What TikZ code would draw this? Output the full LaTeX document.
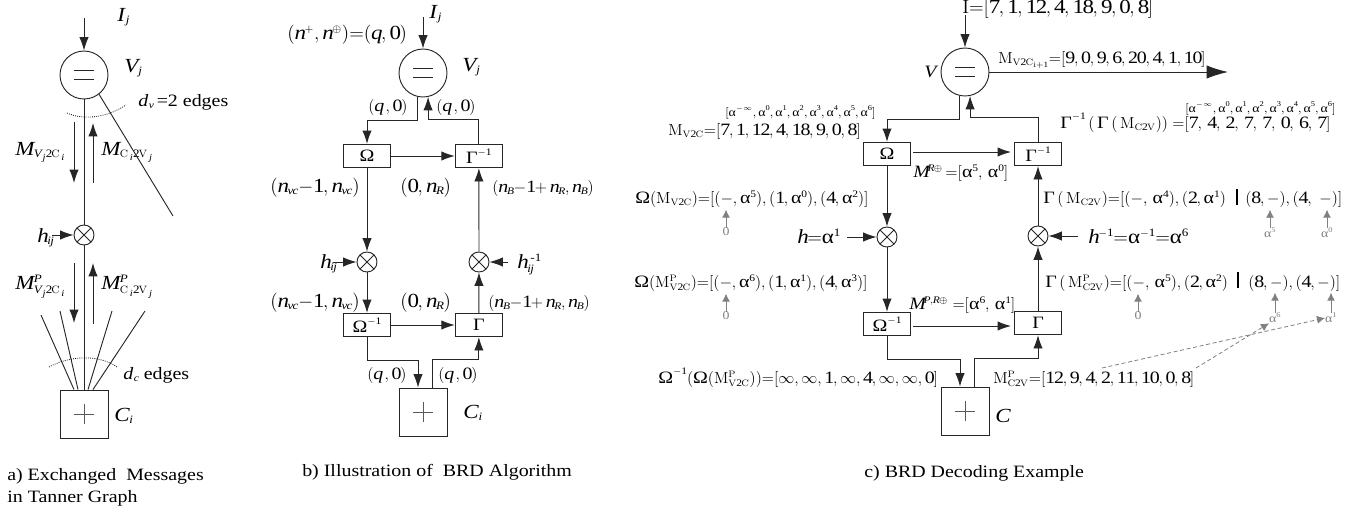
\documentclass[tikz,border=0pt]{standalone}
\usepackage{amsmath}
\usepackage{mathspec}
\setmainfont[FakeStretch=1.15]{Liberation Serif}
\setmathsfont(Digits,Latin)[FakeStretch=1.15]{Liberation Serif}
\usetikzlibrary{positioning,arrows.meta}
\DeclareMathSizes{15}{15}{8.5}{7}
\DeclareMathSizes{13}{13}{7.5}{6}
\DeclareMathSizes{9}{9}{5.5}{5}
\newcommand{\al}{\mbox{α}}
\newcommand{\Om}{\mbox{Ω}}
\newcommand{\Gm}{\mbox{Γ}}
\newcommand{\MP}[1]{\mathrm{M}^{\mathrm{P}}_{\mathrm{#1}}}
\newcommand{\MM}[1]{\mathrm{M}_{\mathrm{#1}}}
\tikzset{
    lab/.style={anchor=base west, inner sep=0pt, font=\fontsize{13}{15}\selectfont},
    biglab/.style={lab, font=\fontsize{15}{17}\selectfont},
    small/.style={lab, font=\fontsize{9}{11}\selectfont},
    tiny/.style={anchor=center, inner sep=0pt, text=gray, font=\fontsize{9}{10}\selectfont},
    barlab/.style={anchor=center, inner sep=0pt},
    line/.style={line width=0.7pt, draw=black!85},
    arr/.style={line, -{Latex[length=10pt,width=7pt]}},
    grayarr/.style={line width=0.7pt, draw=gray, -{Latex[length=6pt,width=6pt]}},
    dasharr/.style={line width=0.6pt, draw=gray, densely dashed, -{Latex[length=6pt,width=6pt]}},
    vnode/.style={circle, line, minimum size=36pt, inner sep=0pt,
        path picture={\draw[line] ([xshift=-7.5pt,yshift=3.5pt]path picture bounding box.center) -- ++(15pt,0);
                      \draw[line] ([xshift=-7.5pt,yshift=-3.5pt]path picture bounding box.center) -- ++(15pt,0);}},
    cnode/.style={rectangle, line, minimum size=36pt, inner sep=0pt,
        path picture={\draw[line width=0.6pt,draw=black!65] ([xshift=-7.5pt]path picture bounding box.center) -- ++(15pt,0);
                      \draw[line width=0.6pt,draw=black!65] ([yshift=-7.5pt]path picture bounding box.center) -- ++(0,15pt);}},
    xnode/.style={circle, line, minimum size=15pt, inner sep=0pt,
        path picture={\draw[line] (path picture bounding box.north west) -- (path picture bounding box.south east);
                      \draw[line] (path picture bounding box.north east) -- (path picture bounding box.south west);}},
    opbox/.style={rectangle, line, minimum width=35.5pt, minimum height=17.5pt, inner sep=0pt, font=\fontsize{13}{15}\selectfont},
    captxt/.style={lab, font=\fontsize{13}{15}\selectfont},
}
\begin{document}
\begin{tikzpicture}[x=0.75pt,y=-0.75pt]
\useasboundingbox (0,0) rectangle (1359,515);

%Nodes a
\node[vnode]    (Va)    at (84,75)      {};
\node[xnode]    (xa)    at (84,235)     {};
\node[cnode]    (Ca)    at (84,414)     {};
\coordinate     (ia)    at (84,18);
\coordinate     (da)    at (173,216);
\coordinate     (ha)    at (52,235);
\node[biglab]   (Ija)   at (117,21)     {$I_{\,j}$};
\node[biglab]   (Vja)   at (124,72)     {$V_{\,j}$};
\node[lab]      (dva)   at (138,106)    {$d_{\,v}$\,=2 edges};
\node[biglab]   (Mva)   at (15,155)     {$M_{\,V_{\,j}2\mathrm{C}_{\,i}}$};
\node[biglab]   (Mca)   at (101,155)    {$M_{\,\mathrm{C}_{\,i}2\mathrm{V}_{\,j}}$};
\node[biglab]   (hia)   at (37,242)     {$h_{ij}$};
\node[biglab]   (Pva)   at (15,289)     {$M^{\,P}_{\,V_{\,j}2\mathrm{C}_{\,i}}$};
\node[biglab]   (Pca)   at (101,289)    {$M^{\,P}_{\,\mathrm{C}_{\,i}2\mathrm{V}_{\,j}}$};
\node[lab]      (dca)   at (123,379)    {$d_{\,c}$ edges};
\node[biglab]   (Cia)   at (114,421)    {$C_{\,i}$};
\node[captxt]   (capa)  at (7,480)      {a) Exchanged\ \ Messages};
\node[captxt]   (capb)  at (7,502)      {in Tanner Graph};

%Lines a
\draw[arr]      (ia) -- (Va);
\draw[line]     (Va) -- (xa);
\draw[line]     (xa) -- (Ca);
\draw[line]     (Va.-52) -- (da);
\draw[arr]      (ha) -- (xa);
\draw[arr]      (74,122) -- (74,183);
\draw[arr]      (93,183) -- (93,123);
\draw[arr]      (74,263) -- (74,323);
\draw[arr]      (93,324) -- (93,263);
\draw[line]     ([xshift=-7.5pt]Ca.north) -- (41,315);
\draw[line]     ([xshift=-4.5pt]Ca.north) -- (60,311);
\draw[line]     ([xshift=3pt]Ca.north) -- (112,311);
\draw[line]     ([xshift=6.75pt]Ca.north) -- (145,311);
\draw[densely dotted, line width=0.6pt] (67,113) .. controls (80,119) and (103,120) .. (126,105);
\draw[densely dotted, line width=0.6pt] (49,367) .. controls (65,358) and (95,352) .. (117,367);

%Nodes b
\node[vnode]    (Vb)    at (423,73)     {};
\node[opbox]    (Wb)    at (367,156)    {$\Om$};
\node[opbox]    (Gb)    [right=47.7pt of Wb]  {$\Gm^{-1}$};
\node[xnode]    (xlb)   at (367,262)    {};
\node[xnode]    (xrb)   at (479,262)    {};
\node[opbox]    (Wib)   at (367,325)    {$\Om^{-1}$};
\node[opbox]    (Gab)   [right=47.7pt of Wib] {$\Gm$};
\node[cnode]    (Cb)    at (423,412)    {};
\coordinate     (ib)    at (423,17);
\coordinate     (hlb)   at (333,262);
\coordinate     (hrb)   at (508,262);
\node[biglab]   (Ijb)   at (429,18)     {$I_{\,j}$};
\node[biglab]   (Vjb)   at (462,71)     {$V_{\,j}$};
\node[biglab]   (nqb)   at (287,39)     {$(n^{+},n^{\oplus}){=}(q,0)$};
\node[lab]      (q1b)   at (368,111)    {$(q\,,0)$};
\node[lab]      (q2b)   at (436,111)    {$(q\,,0)$};
\node[biglab]   (n1b)   at (270,192)    {$(n_{vc}{-}1,n_{vc})$};
\node[biglab]   (r1b)   at (400,192)    {$(0,n_{R})$};
\node[lab]      (n2b)   at (492,192)    {$(n_{B}{-}1{+}\,n_{R},n_{B})$};
\node[biglab]   (hlab)  at (320,268)    {$h_{ij}$};
\node[biglab]   (hrab)  at (517,268)    {$h_{ij}^{\;\text{-}1}$};
\node[biglab]   (n3b)   at (270,307)    {$(n_{vc}{-}1,n_{vc})$};
\node[biglab]   (r2b)   at (400,307)    {$(0,n_{R})$};
\node[lab]      (n4b)   at (488,307)    {$(n_{B}{-}1{+}\,n_{R},n_{B})$};
\node[lab]      (q3b)   at (367,379)    {$(q\,,0)$};
\node[lab]      (q4b)   at (438,379)    {$(q\,,0)$};
\node[biglab]   (Cib)   at (463,418)    {$C_{\,i}$};
\node[captxt]   (capc)  at (302,476)    {b) Illustration of\ \ BRD Algorithm};

%Lines b
\draw[arr]      (ib) -- (Vb);
\draw[arr]      (Vb.258) -- ++(0,24) -| (Wb.north);
\draw[arr]      (Gb.north) -- ++(0,-24) -| (Vb.282);
\draw[arr]      (Wb) -- (Gb);
\draw[arr]      (Wb) -- (xlb);
\draw[arr]      (xrb) -- (Gb);
\draw[arr]      (hlb) -- (xlb);
\draw[arr]      (hrb) -- (xrb);
\draw[arr]      (xlb) -- (Wib);
\draw[arr]      (Gab) -- (xrb);
\draw[arr]      (Wib) -- (Gab);
\draw[arr]      (Wib.south) -- ++(0,23) -| ([xshift=-3.75pt]Cb.north);
\draw[arr]      ([xshift=6.75pt]Cb.north) -- ++(0,-28) -| (Gab.south);

%Nodes c
\node[vnode]    (Vc)    at (965,72)     {};
\node[opbox]    (Wc)    at (887,154)    {$\Om$};
\node[opbox]    (Gc)    at (1038,154)   {$\Gm^{-1}$};
\node[xnode]    (xlc)   at (887,237)    {};
\node[xnode]    (xrc)   at (1038,236)   {};
\node[opbox]    (Wic)   at (887,324)    {$\Om^{-1}$};
\node[opbox]    (Gac)   at (1038,323)   {$\Gm$};
\node[cnode]    (Cc)    at (965,411)    {};
\coordinate     (ic)    at (965,15);
\coordinate     (oc)    at (1228,72);
\coordinate     (hlc)   at (847,237);
\coordinate     (hrc)   at (1078,236);
\coordinate     (w1c)   at (913,152);
\coordinate     (g1c)   at (1011,152);
\coordinate     (w2c)   at (913,326);
\coordinate     (g2c)   at (1011,326);
\coordinate     (dl1)   at (1102,368);
\coordinate     (dl2)   at (1196,368);
\node[biglab]   (Ic)    at (962,13)     {$\mathrm{I}{=}[7,1,12,4,18,9,0,8]$};
\node[lab]      (Vlc)   at (924,77)     {$V$};
\node[lab]      (Moc)   at (998,63)     {$\mathrm{M}_{\mathrm{V2C}_{\mathrm{i+1}}}{=}[9,0,9,6,20,4,1,10]$};
\node[small]    (al1c)  at (725,116)    {$[\al^{-\infty},\al^{0},\al^{1},\al^{2},\al^{3},\al^{4},\al^{5},\al^{6}]$};
\node[lab]      (Mvc)   at (668,135)    {$\MM{V2C}{=}[7,1,12,4,18,9,0,8]$};
\node[small]    (al2c)  at (1185,112)   {$[\al^{-\infty},\al^{0},\al^{1},\al^{2},\al^{3},\al^{4},\al^{5},\al^{6}]$};
\node[lab]      (Gic)   at (1060,128)   {$\Gm^{-1}\,(\,\Gm\,(\,\MM{C2V}))\;{=}[7,\,4,\,2,\,7,\,7,\,0,\,6,\,7]$};
\node[lab]      (MRc)   at (913,177)    {$M^{R\oplus}\,{=}[\al^{5},\,\al^{0}]$};
\node[lab]      (Wvc)   at (635,203)    {$\Om(\MM{V2C}){=}[(-,\al^{5}),(1,\al^{0}),(4,\al^{2})]$};
\node[lab]      (Gvc)   at (1043,203)   {$\Gm\,(\,\MM{C2V}){=}[(-,\,\al^{4}),(2,\al^{1})$};
\node[barlab]   (Bvc)   at (1237,197)   {\rule{1.5pt}{12pt}};
\node[lab]      (Gwc)   at (1245,203)   {$(8,-),(4,\ -)]$};
\node[biglab]   (hlac)  at (797,243)    {$h{=}\al^{1}$};
\node[biglab]   (hrac)  at (1088,243)   {$h^{-1}{=}\al^{-1}{=}\al^{6}$};
\node[lab]      (Wpc)   at (634,287)    {$\Om(\MP{V2C}){=}[(-,\al^{6}),(1,\al^{1}),(4,\al^{3})]$};
\node[lab]      (Gpc)   at (1045,287)   {$\Gm\,(\,\MP{C2V}){=}[(-,\,\al^{5}),(2,\al^{2})$};
\node[barlab]   (Bpc)   at (1238,280)   {\rule{1.5pt}{12pt}};
\node[lab]      (Gqc)   at (1248,287)   {$(8,-),(4,-)]$};
\node[lab]      (MPc)   at (909,309)    {$M^{P,R\oplus}\;{=}[\al^{6},\,\al^{1}]$};
\node[lab]      (Wic2)  at (658,383)    {$\Om^{-1}(\Om(\MP{V2C})){=}[\infty,\infty,1,\infty,4,\infty,\infty,0]$};
\node[lab]      (Mpc)   at (993,383)    {$\MP{C2V}{=}[12,9,4,2,11,10,0,8]$};
\node[biglab]   (Clc)   at (995,422)    {$C$};
\node[captxt]   (capd)  at (864,477)    {c) BRD Decoding Example};
\node[tiny]     (z1c)   at (726,232)    {0};
\node[tiny]     (z2c)   at (1270,233)   {$\al^{5}$};
\node[tiny]     (z3c)   at (1327,233)   {$\al^{0}$};
\node[tiny]     (z4c)   at (726,316)    {0};
\node[tiny]     (z5c)   at (1138,316)   {0};
\node[tiny]     (z6c)   at (1275,318)   {$\al^{6}$};
\node[tiny]     (z7c)   at (1331,318)   {$\al^{1}$};

%Lines c
\draw[arr]      (ic) -- (Vc);
\draw[line, -{Latex[length=16pt,width=10pt]}] (Vc) -- (oc);
\draw[arr]      (Vc.258) -- ++(0,24) -| (Wc.north);
\draw[arr]      (Gc.north) -- ++(0,-24) -| (Vc.282);
\draw[arr]      (w1c) -- (g1c);
\draw[arr]      (Wc) -- (xlc);
\draw[arr]      (xrc) -- (Gc);
\draw[arr]      (hlc) -- (xlc);
\draw[arr]      (hrc) -- (xrc);
\draw[arr]      (xlc) -- (Wic);
\draw[arr]      (Gac) -- (xrc);
\draw[arr]      (w2c) -- (g2c);
\draw[arr]      (Wic.south) -- ++(0,23) -| ([xshift=-3.75pt]Cc.north);
\draw[arr]      ([xshift=6.75pt]Cc.north) -- ++(0,-28) -| (Gac.south);
\draw[grayarr]  (z1c.north) -- ++(0,-18);
\draw[grayarr]  (z2c.north) -- ++(0,-18);
\draw[grayarr]  (z3c.north) -- ++(0,-18);
\draw[grayarr]  (z4c.north) -- ++(0,-18);
\draw[grayarr]  (z5c.north) -- ++(0,-18);
\draw[grayarr]  (z6c.north) -- ++(0,-20);
\draw[grayarr]  (z7c.north) -- ++(0,-20);
\draw[dasharr]  (dl1) -- (z7c.west);
\draw[dasharr]  (dl2) -- (z6c.south west);
\end{tikzpicture}
\end{document}
